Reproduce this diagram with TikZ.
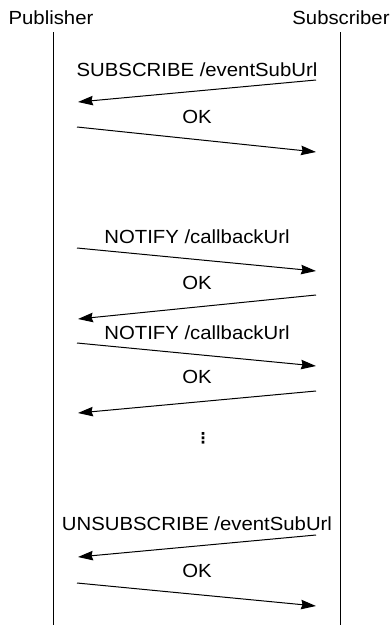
\documentclass[tikz,border=0pt]{standalone}
\usepackage{fontspec}
\setmainfont[FakeStretch=1.07]{Liberation Sans}
\newfontfamily\symfont{DejaVu Sans}
\usetikzlibrary{arrows.meta}
\begin{document}
\begin{tikzpicture}[x=1pt,y=-1pt,
  lbl/.style={font=\fontsize{19}{21}\selectfont, inner sep=0pt, anchor=center},
  life/.style={line width=1pt, black},
  msg/.style={line width=1pt, -{Stealth[length=15pt,width=9.5pt,inset=1.5pt]}}]
\useasboundingbox (0,0) rectangle (390,625);
% participants
\node[lbl] (pub) at (51,18) {Publisher};
\node[lbl] (sub) at (341,18) {Subscriber};
\coordinate (pt) at (53,32);
\coordinate (pb) at (53,625);
\coordinate (st) at (340,32);
\coordinate (sb) at (340,625);
\draw[life] (pt) -- (pb);
\draw[life] (st) -- (sb);
% message end points
\foreach \n/\y in {a/80, b/127, c/248, d/295, e/343, f/391, g/535, h/583}{
  \coordinate (L\n) at (77,\y);
  \coordinate (R\n) at (316,\y);
}
\foreach \n/\y in {a/102, b/152, c/271, d/319, e/366, f/413, g/557, h/606}{
  \coordinate (l\n) at (78,\y);
  \coordinate (r\n) at (316,\y);
}
% subscription
\node[lbl] (m1) at (197,70) {SUBSCRIBE /eventSubUrl};
\draw[msg] (Ra) -- (la);
\node[lbl] (m2) at (197,117) {OK};
\draw[msg] (Lb) -- (rb);
% notifications
\node[lbl] (m3) at (197,237) {NOTIFY /callbackUrl};
\draw[msg] (Lc) -- (rc);
\node[lbl] (m4) at (197,283) {OK};
\draw[msg] (Rd) -- (ld);
\node[lbl] (m5) at (197,333) {NOTIFY /callbackUrl};
\draw[msg] (Le) -- (re);
\node[lbl] (m6) at (197,377) {OK};
\draw[msg] (Rf) -- (lf);
% continuation
\node[inner sep=0pt, font=\symfont\bfseries\fontsize{15}{15}\selectfont] (dots) at (203,438) {⋮};
% unsubscription
\node[lbl] (m7) at (197,524) {UNSUBSCRIBE /eventSubUrl};
\draw[msg] (Rg) -- (lg);
\node[lbl] (m8) at (197,571) {OK};
\draw[msg] (Lh) -- (rh);
\end{tikzpicture}
\end{document}
